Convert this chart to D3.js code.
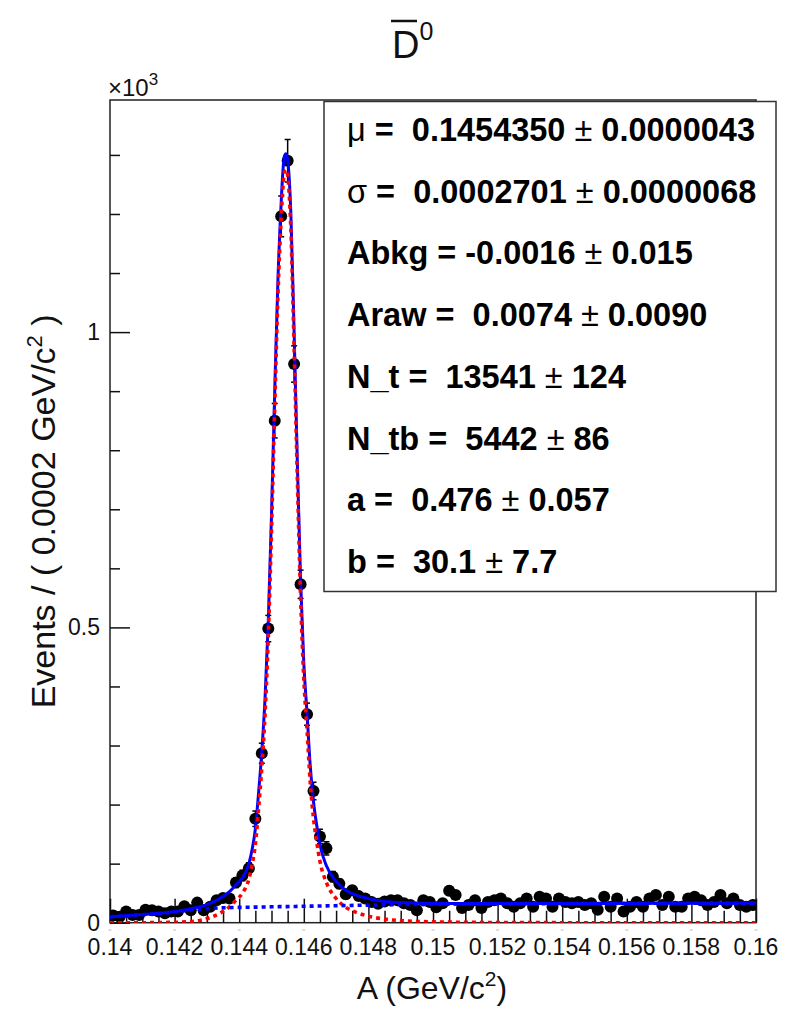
<!DOCTYPE html>
<html>
<head>
<meta charset="utf-8">
<script src="https://cdn.jsdelivr.net/npm/d3@7"></script>
<style>
  body { margin: 0; background: #fff; }
  svg { display: block; }
  text { font-family: "Liberation Sans", Arial, Helvetica, sans-serif; white-space: pre; }
</style>
</head>
<body>
<svg id="chart" width="787" height="1009"></svg>
<script>
// ---- histogram: 100 bins of 0.0002 GeV/c^2 from 0.14 to 0.16 ----
const binLow = 0.14;
const binWidth = 0.0002;
const counts = [
  12, 10, 19, 13, 13, 22, 21, 19, 16, 19,
  19, 28, 21, 34, 21, 27, 38, 42, 41, 68,
  80, 92, 176, 287, 498, 850, 1196, 1290, 946, 573,
  353, 223, 146, 126, 78, 66, 48, 55, 45, 41,
  35, 32, 36, 38, 38, 33, 30, 21, 38, 35,
  26, 33, 54, 47, 25, 30, 38, 25, 35, 38,
  41, 33, 27, 33, 41, 27, 44, 41, 27, 41,
  35, 33, 35, 30, 33, 22, 44, 27, 41, 19,
  27, 35, 27, 41, 47, 30, 44, 27, 27, 41,
  44, 38, 30, 35, 47, 33, 41, 30, 27, 30
];

// ---- fitted model sampled along A ----
const curveX = [
  0.1400, 0.1410, 0.1418, 0.1424, 0.1430, 0.1434, 0.1437, 0.1439, 0.1441, 0.1443,
  0.1444, 0.1445, 0.1446, 0.1447, 0.1448, 0.1449, 0.1450, 0.1451, 0.1452, 0.1453,
  0.14535, 0.1454, 0.14545, 0.1455, 0.1456, 0.1457, 0.1458, 0.1459, 0.1460, 0.1461,
  0.1462, 0.1463, 0.1464, 0.1465, 0.1467, 0.1470, 0.1473, 0.1476, 0.1480, 0.1485,
  0.1490, 0.1500, 0.1520, 0.1550, 0.1580, 0.1600
];
const totalCurve = [
  10, 14, 17.5, 22.5, 30.5, 41, 52.5, 64, 76, 100,
  124, 159, 220, 290, 380, 510, 690, 900, 1090, 1220,
  1270, 1298, 1302, 1292, 1200, 1000, 780, 580, 440, 355,
  265, 205, 165, 132, 96.5, 70, 55, 47, 41, 36,
  34, 32.7, 32.3, 32.6, 33, 33.2
];
const signalCurve = [
  0, 0, 0.5, 1.5, 7, 16, 27, 38, 50, 74,
  98, 133, 193, 263, 353, 483, 663, 873, 1063, 1193,
  1243, 1271, 1275, 1265, 1173, 973, 753, 553, 413, 327,
  237, 177, 137, 104, 68, 41, 26, 18, 11, 6,
  3.5, 1.5, 0.3, 0, 0, 0
];
const bkgCurve = [
  10, 13.5, 17, 21, 23.5, 25, 25.5, 25.8, 26, 26.2,
  26.3, 26.4, 26.5, 26.6, 26.7, 26.8, 26.9, 27, 27.1, 27.2,
  27.2, 27.3, 27.3, 27.3, 27.4, 27.5, 27.6, 27.7, 27.8, 27.9,
  28, 28.1, 28.2, 28.3, 28.5, 28.8, 29.1, 29.4, 29.8, 30.3,
  30.7, 31.2, 32, 32.6, 33, 33.2
];

// ---- axes ----
const xMajorTicks = [0.140, 0.142, 0.144, 0.146, 0.148, 0.150, 0.152, 0.154, 0.156, 0.158, 0.160];
const xTickLabels = ["0.14", "0.142", "0.144", "0.146", "0.148", "0.15", "0.152", "0.154", "0.156", "0.158", "0.16"];
const yMajorTicks = [0, 500, 1000];
const yTickLabels = ["0", "0.5", "1"];

// ---- fit results ----
const paramNames  = ["μ", "σ", "Abkg", "Araw", "N_t", "N_tb", "a", "b"];
const paramValues = ["0.1454350", "0.0002701", "-0.0016", "0.0074", "13541", "5442", "0.476", "30.1"];
const paramErrors = ["0.0000043", "0.0000068", "0.015", "0.0090", "124", "86", "0.057", "7.7"];

const svg = d3.select("#chart");
const F = { left: 110, right: 756, top: 100, bottom: 922.7 };

const x = d3.scaleLinear().domain([0.14, 0.16]).range([F.left, F.right]);
const y = d3.scaleLinear().domain([0, 1393]).range([F.bottom, F.top]);

svg.append("defs").append("clipPath").attr("id", "frameClip")
  .append("rect").attr("x", F.left).attr("y", F.top)
  .attr("width", F.right - F.left).attr("height", F.bottom - F.top);

// frame
svg.append("rect")
  .attr("x", F.left).attr("y", F.top)
  .attr("width", F.right - F.left).attr("height", F.bottom - F.top)
  .attr("fill", "none").attr("stroke", "#222").attr("stroke-width", 1.5);

// x axis: major + minor ticks pointing into the frame
const xAxis = d3.axisBottom(x)
  .tickValues(d3.range(0, 41).map(i => 0.14 + i * 0.0005))
  .tickSize(0).tickFormat("");
const gx = svg.append("g").attr("transform", `translate(0,${F.bottom})`).call(xAxis);
gx.select(".domain").remove();
gx.selectAll(".tick line")
  .attr("y2", (d, i) => i % 4 === 0 ? -24 : -12)
  .attr("stroke", "#111").attr("stroke-width", 1.5);

// x tick labels
svg.append("g").selectAll("text").data(xMajorTicks).join("text")
  .attr("x", d => x(d)).attr("y", 955)
  .attr("text-anchor", "middle").attr("font-size", 23).attr("fill", "#111")
  .text((d, i) => xTickLabels[i]);

// faint marks just below the axis
svg.append("g").selectAll("line").data(xMajorTicks).join("line")
  .attr("x1", d => x(d) - 1.5).attr("x2", d => x(d) + 1.5)
  .attr("y1", 930).attr("y2", 930)
  .attr("stroke", "#bbb").attr("stroke-width", 1);

// y axis ticks
const yAxis = d3.axisLeft(y)
  .tickValues(d3.range(0, 14).map(i => i * 100))
  .tickSize(0).tickFormat("");
const gy = svg.append("g").attr("transform", `translate(${F.left},0)`).call(yAxis);
gy.select(".domain").remove();
gy.selectAll(".tick line")
  .attr("x2", d => d % 500 === 0 ? 20 : 10)
  .attr("stroke", "#111").attr("stroke-width", 1.5);

svg.append("g").selectAll("text").data(yMajorTicks).join("text")
  .attr("x", 100).attr("y", d => y(d) + 8)
  .attr("text-anchor", "end").attr("font-size", 23).attr("fill", "#111")
  .text((d, i) => yTickLabels[i]);

// exponent label
const ex = svg.append("text").attr("x", 108).attr("y", 96).attr("font-size", 24).attr("fill", "#111");
ex.append("tspan").text("×10");
ex.append("tspan").attr("dy", -11).attr("font-size", 17).text("3");

// axis titles
const xt = svg.append("text").attr("x", 432).attr("y", 999)
  .attr("text-anchor", "middle").attr("font-size", 32).attr("fill", "#111");
xt.append("tspan").text("A (GeV/c");
xt.append("tspan").attr("dy", -13).attr("font-size", 21).text("2");
xt.append("tspan").attr("dy", 13).text(")");

const yt = svg.append("text")
  .attr("transform", `translate(55,${(F.top + F.bottom) / 2}) rotate(-90)`)
  .attr("text-anchor", "middle").attr("font-size", 34).attr("fill", "#111");
yt.append("tspan").text("Events / ( 0.0002 GeV/c");
yt.append("tspan").attr("dy", -13).attr("font-size", 22).text("2");
yt.append("tspan").attr("dy", 13).text(" )");

// title: D-bar zero
const tt = svg.append("text").attr("x", 392).attr("y", 58).attr("font-size", 38).attr("fill", "#111");
tt.append("tspan").text("D");
tt.append("tspan").attr("dy", -18).attr("font-size", 25).text("0");
svg.append("line").attr("x1", 391).attr("x2", 417).attr("y1", 21).attr("y2", 21)
  .attr("stroke", "#111").attr("stroke-width", 2.5);

// ---- data points with Poisson error bars ----
const pts = counts.map((n, i) => ({ xc: binLow + (i + 0.5) * binWidth, n, e: Math.sqrt(n) }));
const gd = svg.append("g").attr("clip-path", "url(#frameClip)");
gd.selectAll("line.err").data(pts).join("line").attr("class", "err")
  .attr("x1", d => x(d.xc)).attr("x2", d => x(d.xc))
  .attr("y1", d => y(d.n - d.e)).attr("y2", d => y(d.n + d.e))
  .attr("stroke", "#000").attr("stroke-width", 1.5);
gd.selectAll("line.capT").data(pts).join("line").attr("class", "capT")
  .attr("x1", d => x(d.xc) - 3).attr("x2", d => x(d.xc) + 3)
  .attr("y1", d => y(d.n + d.e)).attr("y2", d => y(d.n + d.e))
  .attr("stroke", "#000").attr("stroke-width", 1.5);
gd.selectAll("line.capB").data(pts).join("line").attr("class", "capB")
  .attr("x1", d => x(d.xc) - 3).attr("x2", d => x(d.xc) + 3)
  .attr("y1", d => y(d.n - d.e)).attr("y2", d => y(d.n - d.e))
  .attr("stroke", "#000").attr("stroke-width", 1.5);
gd.selectAll("circle").data(pts).join("circle")
  .attr("cx", d => x(d.xc)).attr("cy", d => y(d.n)).attr("r", 6)
  .attr("fill", "#000");

// ---- model curves ----
const line = d3.line().x(d => x(d[0])).y(d => y(d[1])).curve(d3.curveMonotoneX);
const gc = svg.append("g").attr("clip-path", "url(#frameClip)");
gc.append("path").datum(curveX.map((v, i) => [v, totalCurve[i]]))
  .attr("d", line).attr("fill", "none").attr("stroke", "#0000ff").attr("stroke-width", 3);
gc.append("path").datum(curveX.map((v, i) => [v, signalCurve[i]]))
  .attr("d", line).attr("fill", "none").attr("stroke", "#ff0000").attr("stroke-width", 3.6)
  .attr("stroke-dasharray", "4,4");
gc.append("path").datum(curveX.map((v, i) => [v, bkgCurve[i]]))
  .attr("d", line).attr("fill", "none").attr("stroke", "#0000ff").attr("stroke-width", 3.6)
  .attr("stroke-dasharray", "4,4");

// ---- parameter box ----
const box = { x: 324, y: 101.5, w: 452, h: 490 };
svg.append("rect").attr("x", box.x).attr("y", box.y).attr("width", box.w).attr("height", box.h)
  .attr("fill", "#fff").attr("stroke", "#333").attr("stroke-width", 1.5);

const rows = svg.append("g").selectAll("text").data(paramNames).join("text")
  .attr("x", 347).attr("y", (d, i) => 141 + i * 61.7)
  .attr("font-size", 32.5).attr("fill", "#000");
rows.each(function (name, i) {
  const t = d3.select(this);
  const greek = name === "μ" || name === "σ";
  t.append("tspan").attr("font-weight", greek ? "normal" : "bold").text(name);
  const v = paramValues[i];
  t.append("tspan").attr("font-weight", "bold").text(" = " + (v.startsWith("-") ? v : " " + v) + " ");
  t.append("tspan").attr("font-weight", "normal").text("±");
  t.append("tspan").attr("font-weight", "bold").text(" " + paramErrors[i]);
});
</script>
</body>
</html>
